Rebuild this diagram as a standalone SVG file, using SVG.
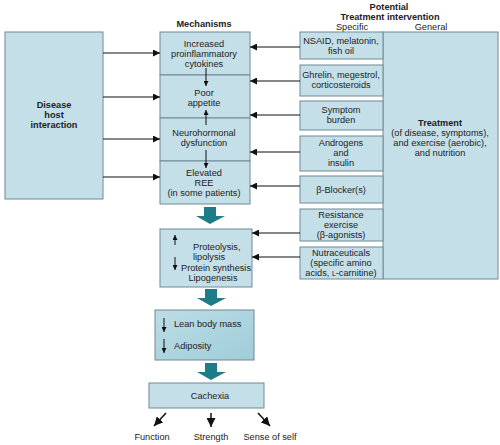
<svg xmlns="http://www.w3.org/2000/svg" width="500" height="445" viewBox="0 0 500 445">
<defs>
<style>
.box{fill:#c4dfe8;stroke:#6f8a94;stroke-width:1}
.dark{fill:url(#lg);stroke:#6f8a94;stroke-width:1}
text{font-family:"Liberation Sans",Arial,sans-serif;font-size:9.2px;fill:#222;text-anchor:middle;dominant-baseline:central}
.b{font-weight:bold}
.l{text-anchor:start}
.c{stroke:#111;stroke-width:1.2;fill:none}
.o{stroke:#111;stroke-width:1.5;fill:none}
.s{stroke:#111;stroke-width:1;fill:none}
.teal{fill:#1e7c88}
</style>
<linearGradient id="lg" x1="0" y1="0" x2="1" y2="1"><stop offset="0" stop-color="#bcdde6"/><stop offset="1" stop-color="#9fcdd8"/></linearGradient>
<marker id="ah" viewBox="0 0 10 10" refX="10" refY="5" markerWidth="8" markerHeight="7" markerUnits="userSpaceOnUse" orient="auto"><path d="M0,0L10,5L0,10z" fill="#111"/></marker>
<marker id="bh" viewBox="0 0 10 10" refX="10" refY="5" markerWidth="9" markerHeight="9" markerUnits="userSpaceOnUse" orient="auto"><path d="M0,0L10,5L0,10z" fill="#111"/></marker>
<marker id="sh" viewBox="0 0 10 10" refX="10" refY="5" markerWidth="6" markerHeight="5" markerUnits="userSpaceOnUse" orient="auto"><path d="M0,0L10,5L0,10z" fill="#111"/></marker>
</defs>
<rect width="500" height="445" fill="#fff"/>

<text x="204" y="24" class="b">Mechanisms</text>
<text x="389" y="7" class="b">Potential</text>
<text x="390" y="17" class="b">Treatment intervention</text>
<text x="352" y="27">Specific</text>
<text x="431" y="27">General</text>

<g id="disease">
<rect class="box" x="5" y="32" width="98" height="167"/>
<text x="54" y="105" class="b">Disease</text>
<text x="54" y="115" class="b">host</text>
<text x="54" y="125" class="b">interaction</text>
</g>

<g id="cytokines">
<rect class="box" x="160" y="32" width="90" height="43"/>
<text x="204" y="44">Increased</text>
<text x="204" y="54">proinflammatory</text>
<text x="204" y="64">cytokines</text>
</g>
<g id="appetite">
<rect class="box" x="160" y="75" width="90" height="43"/>
<text x="204" y="93">Poor</text>
<text x="204" y="103">appetite</text>
</g>
<g id="neuro">
<rect class="box" x="160" y="118" width="90" height="43"/>
<text x="204" y="133">Neurohormonal</text>
<text x="204" y="143">dysfunction</text>
</g>
<g id="ree">
<rect class="box" x="160" y="161" width="90" height="43"/>
<text x="204" y="173">Elevated</text>
<text x="204" y="183">REE</text>
<text x="204" y="193">(in some patients)</text>
</g>

<g id="general">
<rect class="box" x="383" y="32" width="115" height="247"/>
<text x="440" y="123" class="b">Treatment</text>
<text x="440" y="133">(of disease, symptoms),</text>
<text x="440" y="143">and exercise (aerobic),</text>
<text x="440" y="153">and nutrition</text>
</g>
<g id="nsaid">
<rect class="box" x="300" y="32" width="83" height="27"/>
<text x="341" y="41">NSAID, melatonin,</text>
<text x="341" y="51">fish oil</text>
</g>
<g id="ghrelin">
<rect class="box" x="300" y="65" width="83" height="31"/>
<text x="341" y="75">Ghrelin, megestrol,</text>
<text x="341" y="85">corticosteroids</text>
</g>
<g id="symptom">
<rect class="box" x="300" y="101" width="83" height="29"/>
<text x="341" y="110">Symptom</text>
<text x="341" y="120">burden</text>
</g>
<g id="androgens">
<rect class="box" x="300" y="136" width="83" height="35"/>
<text x="341" y="143">Androgens</text>
<text x="341" y="153">and</text>
<text x="341" y="163">insulin</text>
</g>
<g id="blocker">
<rect class="box" x="300" y="176" width="83" height="27"/>
<text x="341" y="190">β-Blocker(s)</text>
</g>
<g id="resistance">
<rect class="box" x="300" y="209" width="83" height="32"/>
<text x="341" y="215">Resistance</text>
<text x="341" y="225">exercise</text>
<text x="341" y="235">(β-agonists)</text>
</g>
<g id="nutra">
<rect class="box" x="300" y="247" width="83" height="32"/>
<text x="341" y="253">Nutraceuticals</text>
<text x="341" y="263">(specific amino</text>
<text x="341" y="273">acids, <tspan font-size="7">L</tspan>-carnitine)</text>
</g>

<g id="proteolysis">
<rect class="box" x="160" y="229" width="92" height="58"/>
<text x="193" y="247" class="l">Proteolysis,</text>
<text x="193" y="257" class="l">lipolysis</text>
<text x="216" y="268">Protein synthesis</text>
<text x="213" y="278">Lipogenesis</text>
</g>

<g id="lean">
<rect class="dark" x="155" y="310" width="99" height="50"/>
<text x="174" y="324" class="l">Lean body mass</text>
<text x="174" y="346" class="l">Adiposity</text>
</g>

<g id="cachexia">
<rect class="box" x="149" y="383" width="115" height="25"/>
<text x="210" y="396">Cachexia</text>
</g>

<g id="outcomes">
<text x="152" y="437">Function</text>
<text x="211" y="437">Strength</text>
<text x="270" y="437">Sense of self</text>
</g>

<g id="connectors">
<line class="c" x1="103" y1="53" x2="160" y2="53" marker-end="url(#ah)"/>
<line class="c" x1="103" y1="97" x2="160" y2="97" marker-end="url(#ah)"/>
<line class="c" x1="103" y1="139" x2="160" y2="139" marker-end="url(#ah)"/>
<line class="c" x1="103" y1="177" x2="160" y2="177" marker-end="url(#ah)"/>

<line class="c" x1="300" y1="47" x2="250" y2="47" marker-end="url(#ah)"/>
<line class="c" x1="300" y1="81" x2="250" y2="81" marker-end="url(#ah)"/>
<line class="c" x1="300" y1="115" x2="250" y2="115" marker-end="url(#ah)"/>
<line class="c" x1="300" y1="152" x2="250" y2="152" marker-end="url(#ah)"/>
<line class="c" x1="300" y1="186" x2="250" y2="186" marker-end="url(#ah)"/>
<line class="c" x1="300" y1="233" x2="252" y2="233" marker-end="url(#ah)"/>
<line class="c" x1="300" y1="257" x2="252" y2="257" marker-end="url(#ah)"/>

<line class="s" x1="206" y1="68" x2="206" y2="86" marker-end="url(#sh)"/>
<line class="s" x1="206" y1="125" x2="206" y2="110" marker-end="url(#sh)"/>
<line class="s" x1="206" y1="150" x2="206" y2="168" marker-end="url(#sh)"/>

<line class="s" x1="175" y1="245" x2="175" y2="235" marker-end="url(#sh)"/>
<line class="s" x1="175" y1="257" x2="175" y2="270" marker-end="url(#sh)"/>
<line class="s" x1="164" y1="318" x2="164" y2="332" marker-end="url(#sh)"/>
<line class="s" x1="164" y1="339" x2="164" y2="353" marker-end="url(#sh)"/>

<path class="teal" d="M204,207H216V216H225L210,224L196,216H204Z"/>
<path class="teal" d="M205,289H217V298H226L211,306L197,298H205Z"/>
<path class="teal" d="M205,363H217V372H226L211,380L197,372H205Z"/>

<line class="o" x1="166" y1="413" x2="154" y2="426" marker-end="url(#bh)"/>
<line class="o" x1="211" y1="413" x2="211" y2="427" marker-end="url(#bh)"/>
<line class="o" x1="258" y1="413" x2="270" y2="426" marker-end="url(#bh)"/>
</g>
</svg>
